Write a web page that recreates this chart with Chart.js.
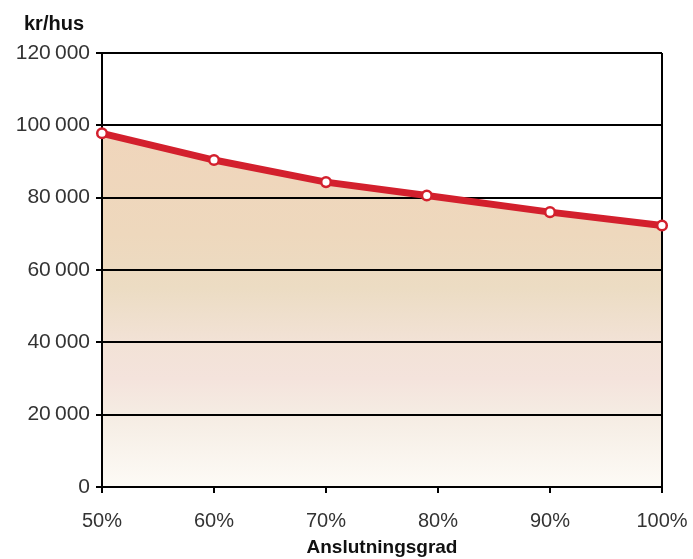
<!DOCTYPE html>
<html>
<head>
<meta charset="utf-8">
<title>Kostnad per hus och anslutningsgrad</title>
<script src="https://cdn.jsdelivr.net/npm/chart.js@4/dist/chart.umd.min.js"></script>
<style>
  html, body { margin: 0; padding: 0; background: #ffffff; }
  #wrap { width: 693px; height: 559px; }
</style>
</head>
<body>
<div id="wrap"><canvas id="chart" width="693" height="559"></canvas></div>
<script>
// Anslutningsgrad (%) and cost per house (kr)
const connectionRates = [50, 60, 70, 79, 90, 100];
const costPerHouse = [97800, 90400, 84300, 80600, 76000, 72300];

// Axis ticks
const xTickValues = [50, 60, 70, 80, 90, 100];
const yTickValues = [0, 20000, 40000, 60000, 80000, 100000, 120000];

const yTitle = 'kr/hus';
const xTitle = 'Anslutningsgrad';

const RED = '#d3202d';
const FONT = "'Liberation Sans', Arial, sans-serif";

// Format numbers with a thin space as thousands separator
function fmt(v) {
  return String(v).replace(/\B(?=(\d{3})+(?!\d))/g, '\u2009');
}

// Tan-to-white vertical fill under the line
function areaFill(ctx) {
  const chart = ctx.chart;
  if (!chart.chartArea) return 'rgba(240,214,188,1)';
  const y = chart.scales.y;
  const top = y.getPixelForValue(100000);
  const bottom = y.getPixelForValue(0);
  const g = chart.ctx.createLinearGradient(0, top, 0, bottom);
  g.addColorStop(0.00, '#f0d5bb');
  g.addColorStop(0.30, '#eed8bd');
  g.addColorStop(0.45, '#ecdcc3');
  g.addColorStop(0.60, '#f2e2d6');
  g.addColorStop(0.70, '#f4e3dc');
  g.addColorStop(0.80, '#f5ece3');
  g.addColorStop(1.00, '#fdfbf6');
  return g;
}

// Axis unit label above the y axis
const unitLabel = {
  id: 'unitLabel',
  afterDraw(chart) {
    const c = chart.ctx;
    c.save();
    c.font = "bold 20px " + FONT;
    c.fillStyle = '#111';
    c.textAlign = 'left';
    c.textBaseline = 'alphabetic';
    c.fillText(yTitle, 24, 30);
    c.restore();
  }
};

new Chart(document.getElementById('chart'), {
  type: 'line',
  data: {
    datasets: [{
      data: connectionRates.map((x, i) => ({ x: x, y: costPerHouse[i] })),
      borderColor: RED,
      borderWidth: 7,
      backgroundColor: areaFill,
      fill: 'origin',
      tension: 0,
      pointRadius: 4.8,
      pointBorderWidth: 2.5,
      pointBackgroundColor: '#ffffff',
      pointBorderColor: RED,
      clip: false
    }]
  },
  options: {
    responsive: false,
    animation: false,
    layout: { padding: { left: 0, top: 53, right: 31, bottom: 0 } },
    plugins: {
      legend: { display: false },
      tooltip: { enabled: false },
      // area goes down first so the grid lines sit on top of it
      filler: { drawTime: 'beforeDraw' }
    },
    scales: {
      x: {
        type: 'linear',
        min: 50,
        max: 100,
        afterBuildTicks(scale) {
          scale.ticks = xTickValues.map(v => ({ value: v }));
        },
        afterFit(scale) {
          scale.height = 72;
          scale.paddingLeft = 0;
          scale.paddingRight = 0;
        },
        ticks: {
          callback: v => v + '%',
          color: '#333',
          font: { family: FONT, size: 20 },
          padding: 16,
          maxRotation: 0
        },
        grid: {
          drawOnChartArea: true,
          color: c => (c.tick && c.tick.value === 100) ? '#000' : 'rgba(0,0,0,0)',
          lineWidth: 2,
          tickLength: 6,
          tickColor: '#000',
          tickWidth: 2
        },
        border: { display: true, color: '#000', width: 2 },
        title: {
          display: true,
          text: xTitle,
          color: '#111',
          font: { family: FONT, size: 19, weight: 'bold' },
          padding: { top: 0, bottom: 0 }
        }
      },
      y: {
        min: 0,
        max: 120000,
        afterBuildTicks(scale) {
          scale.ticks = yTickValues.map(v => ({ value: v }));
        },
        afterFit(scale) {
          scale.width = 102;
          scale.paddingTop = 0;
          scale.paddingBottom = 0;
        },
        ticks: {
          callback: v => fmt(v),
          color: '#333',
          font: { family: FONT, size: 21 },
          padding: 6
        },
        grid: {
          color: '#000',
          lineWidth: 2,
          tickLength: 6,
          tickColor: '#000',
          tickWidth: 2
        },
        border: { display: true, color: '#000', width: 2 }
      }
    }
  },
  plugins: [unitLabel]
});
</script>
</body>
</html>
